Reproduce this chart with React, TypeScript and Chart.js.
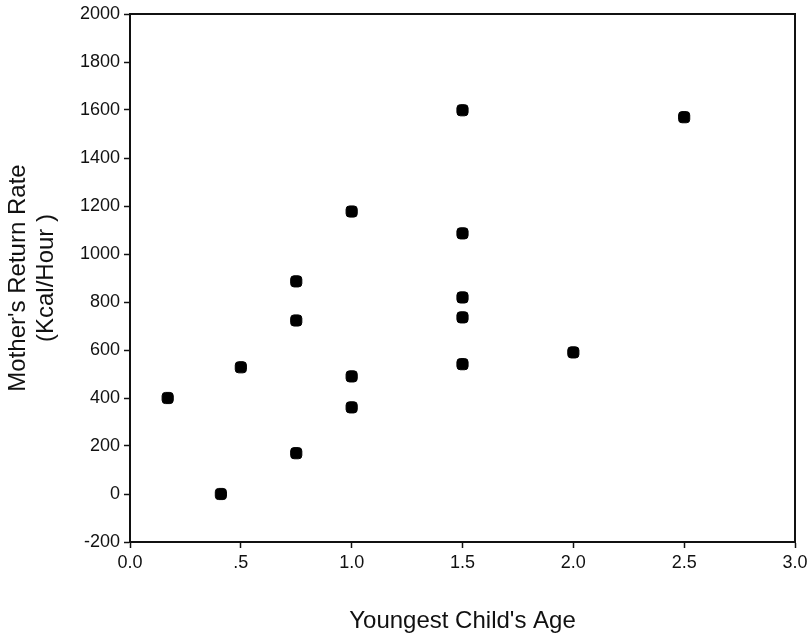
import React, { useEffect, useRef } from "react";
import { Chart, registerables } from "chart.js";

Chart.register(...registerables);

const childAge = [0.17, 0.41, 0.5, 0.75, 0.75, 0.75, 1.0, 1.0, 1.0, 1.5, 1.5, 1.5, 1.5, 1.5, 2.0, 2.5];
const returnRate = [400, 0, 528, 886, 723, 170, 1177, 490, 361, 1599, 1086, 819, 736, 541, 590, 1570];
const xTickLabels: Record<string, string> = { "0": "0.0", "0.5": ".5", "1": "1.0", "1.5": "1.5", "2": "2.0", "2.5": "2.5", "3": "3.0" };

const FONT = "'Liberation Sans', Arial, sans-serif";

const boxPlugin = {
  id: "box",
  afterDatasetsDraw(chart: any) {
    const { ctx, chartArea: a } = chart;
    ctx.save();
    ctx.strokeStyle = "#111";
    ctx.lineWidth = 2;
    ctx.strokeRect(a.left, a.top, a.right - a.left, a.bottom - a.top);
    ctx.restore();
  },
};

export default function App() {
  const ref = useRef<HTMLCanvasElement>(null);
  useEffect(() => {
    const chart = new Chart(ref.current!, {
      type: "scatter",
      data: {
        datasets: [
          {
            data: childAge.map((x, i) => ({ x, y: returnRate[i] })),
            backgroundColor: "#000",
            borderColor: "#000",
            pointStyle: "rectRounded",
            pointRadius: 6.5,
            pointHoverRadius: 6.5,
          },
        ],
      },
      options: {
        animation: false,
        responsive: false,
        maintainAspectRatio: false,
        layout: { padding: { top: 14, right: 14, left: 0, bottom: 0 } },
        plugins: { legend: { display: false }, tooltip: { enabled: false } },
        scales: {
          x: {
            type: "linear",
            min: 0,
            max: 3,
            afterFit: (s: any) => { s.height = 93; s.paddingRight = 0; s.paddingLeft = 0; },
            ticks: {
              stepSize: 0.5,
              color: "#111",
              font: { family: FONT, size: 18 },
              padding: 4,
              maxRotation: 0,
              callback: (v: any) => xTickLabels[String(v)] ?? String(v),
            },
            grid: { drawOnChartArea: false, tickLength: 6, color: "#111", tickWidth: 1.5 },
            border: { color: "#111", width: 2 },
            title: {
              display: true,
              text: "Youngest Child's Age",
              color: "#111",
              font: { family: FONT, size: 24, lineHeight: 1.17 },
              padding: { top: 0, bottom: 0 },
            },
          },
          y: {
            min: -200,
            max: 2000,
            afterFit: (s: any) => { s.width = 130; s.paddingTop = 0; s.paddingBottom = 0; },
            ticks: {
              stepSize: 200,
              color: "#111",
              font: { family: FONT, size: 18 },
              padding: 4,
              callback: (v: any) => String(v),
            },
            grid: { drawOnChartArea: false, tickLength: 6, color: "#111", tickWidth: 1.5 },
            border: { color: "#111", width: 2 },
            title: {
              display: true,
              text: ["Mother's Return Rate", "(Kcal/Hour )"],
              color: "#111",
              font: { family: FONT, size: 24, lineHeight: 1.17 },
              padding: { top: 4, bottom: 0 },
            },
          },
        },
      },
      plugins: [boxPlugin],
    });
    return () => chart.destroy();
  }, []);
  return (
    <div style={{ position: "fixed", left: 0, top: 0, width: 809, height: 635, background: "#fff" }}>
      <canvas ref={ref} width={809} height={635} style={{ width: 809, height: 635 }} />
    </div>
  );
}
